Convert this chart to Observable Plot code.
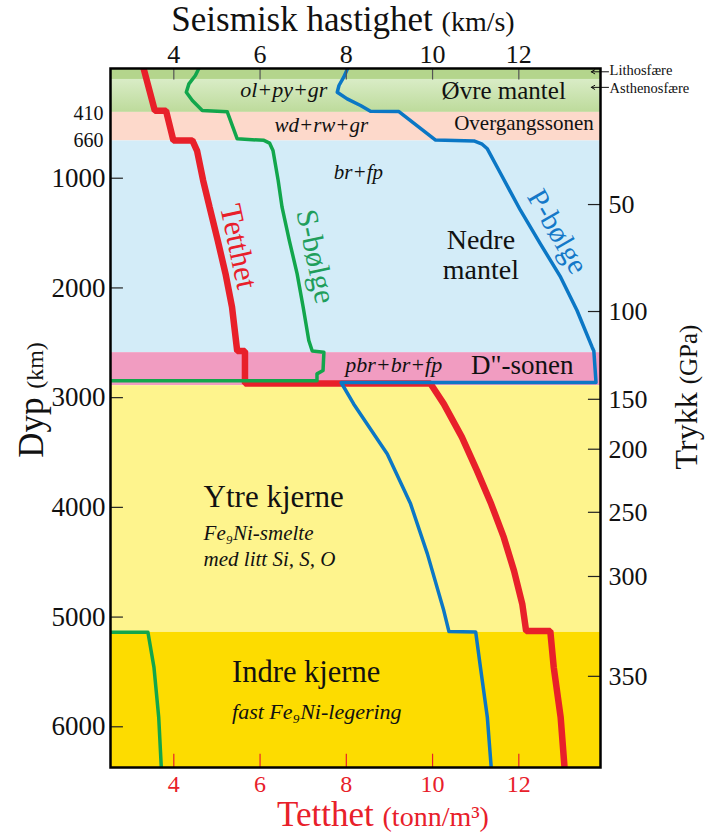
<!DOCTYPE html>
<html>
<head>
<meta charset="utf-8">
<script src="https://cdn.jsdelivr.net/npm/d3@7"></script>
<script src="https://cdn.jsdelivr.net/npm/@observablehq/plot@0.6"></script>
<style>
  html, body { margin: 0; padding: 0; background: #fff; }
  #chart svg { display: block; }
  #chart svg text { font-family: 'Liberation Serif', 'Times New Roman', serif; }
</style>
</head>
<body>
<div id="chart"></div>
<script>
// ---------- data ----------
const layerNames  = ["Lithosfære", "Øvre mantel", "Overgangssonen", "Nedre mantel", "D''-sonen", "Ytre kjerne", "Indre kjerne"];
const layerTop    = [0, 100, 400, 660, 2590, 2891, 5140];
const layerBottom = [100, 400, 660, 2590, 2891, 5140, 6371];

// Density (tonn/m3) vs depth (km)
const densityDepth = [0, 385, 385, 656, 656, 750, 1020, 1264, 1570, 1872, 2176, 2575, 2575, 2871, 2871, 3057, 3360, 3665, 3970, 4272, 4580, 4880, 5128, 5128, 5458, 5913, 6371];
const densityValue = [3.30, 3.56, 3.82, 3.99, 4.43, 4.54, 4.68, 4.83, 5.02, 5.20, 5.35, 5.47, 5.65, 5.65, 9.95, 10.26, 10.68, 11.03, 11.36, 11.65, 11.89, 12.08, 12.17, 12.73, 12.81, 12.97, 13.06];

// P-wave velocity (km/s) vs depth (km)
const pDepth = [0, 79, 155, 216, 277, 337, 389, 392, 652, 660, 690, 732, 930, 1294, 1598, 1902, 2206, 2540, 2575, 2862, 2862, 3057, 3513, 3968, 4424, 4941, 5132, 5136, 5458, 5913, 6371];
const pValue = [8.03, 7.94, 7.83, 7.79, 8.02, 8.33, 8.56, 9.22, 10.07, 10.96, 11.15, 11.27, 11.54, 12.04, 12.50, 12.97, 13.35, 13.70, 13.74, 13.79, 7.88, 8.17, 8.95, 9.49, 9.88, 10.26, 10.38, 11.00, 11.11, 11.27, 11.36];

// S-wave velocity (km/s) vs depth (km); 0 in the liquid outer core
const sDepth = [0, 64, 140, 216, 292, 383, 395, 641, 655, 680, 747, 1021, 1264, 1570, 1872, 2176, 2479, 2575, 2586, 2753, 2783, 2845, 2845, 5138, 5138, 5458, 5913, 6371];
const sValue = [4.58, 4.50, 4.35, 4.29, 4.43, 4.66, 5.24, 5.47, 6.09, 6.22, 6.30, 6.42, 6.51, 6.68, 6.86, 7.00, 7.13, 7.21, 7.48, 7.46, 7.32, 7.32, 0, 0, 3.40, 3.54, 3.65, 3.71];

const xTicks = [4, 6, 8, 10, 12];
const depthTicks = [1000, 2000, 3000, 4000, 5000, 6000];
const boundaryTicks = [410, 660];
const pressureDepth = [1240, 2215, 3015, 3470, 4045, 4630, 5540];
const pressureLabel = [50, 100, 150, 200, 250, 300, 350];

// ---------- styles ----------
const layerColor = {
  "Lithosfære": "#b4d58c",
  "Øvre mantel": "url(#umGrad)",
  "Overgangssonen": "#fdd9cb",
  "Nedre mantel": "#d3ecf8",
  "D''-sonen": "#f19cc1",
  "Ytre kjerne": "#fef48d",
  "Indre kjerne": "#fddc00"
};
const RED = "#e8202a", GREEN = "#12a64c", BLUE = "#0b77c5";
const SERIF = "'Liberation Serif', 'Times New Roman', serif";

const layers = layerNames.map((n, i) => ({name: n, top: layerTop[i], bottom: layerBottom[i]}));
const density = densityDepth.map((d, i) => ({d, v: densityValue[i]}));
const pwave = pDepth.map((d, i) => ({d, v: pValue[i]}));
const swave = sDepth.map((d, i) => ({d, v: sValue[i]}));
const pMap = new Map(pressureDepth.map((d, i) => [d, pressureLabel[i]]));

const X0 = 2.532, X1 = 13.894;

const txt = (s, o) => Plot.text([s], {text: d => d, fontFamily: SERIF, fill: "#111", ...o});
const ax = {tickSize: 0, label: null, fontFamily: SERIF};

const plot = Plot.plot({
  width: 706,
  height: 838,
  marginLeft: 110,
  marginRight: 106,
  marginTop: 68,
  marginBottom: 71,
  style: {fontFamily: SERIF, background: "#fff"},
  x: {domain: [X0, X1]},
  y: {domain: [0, 6371], reverse: true},
  marks: [
    // layers
    ...layers.map(l => Plot.rect([l], {y1: "top", y2: "bottom", fill: layerColor[l.name]})),
    // curves
    Plot.line(density, {x: "v", y: "d", stroke: RED, strokeWidth: 6.5, strokeLinejoin: "miter", clip: true}),
    Plot.line(pwave, {x: "v", y: "d", stroke: BLUE, strokeWidth: 3.5, strokeLinejoin: "round", clip: true}),
    Plot.line(swave, {x: "v", y: "d", stroke: GREEN, strokeWidth: 3.5, strokeLinejoin: "round", clip: true}),
    // inner ticks
    Plot.ruleX(xTicks, {x: d => d, y1: 0, y2: 105, stroke: "#555", strokeWidth: 1.2}),
    Plot.ruleX(xTicks, {x: d => d, y1: 6250, y2: 6371, stroke: RED, strokeWidth: 1.2}),
    Plot.ruleY(depthTicks, {y: d => d, x1: X0, x2: X0 + 0.3, stroke: "#222", strokeWidth: 1.2}),
    Plot.ruleY(pressureDepth, {y: d => d, x1: X1 - 0.28, x2: X1, stroke: "#222", strokeWidth: 1.2}),
    // axes
    Plot.axisX(xTicks, {...ax, anchor: "top", tickPadding: 6, fontSize: 26, fill: "#111"}),
    Plot.axisX(xTicks, {...ax, anchor: "bottom", tickPadding: 7, fontSize: 24, color: RED}),
    Plot.axisY(depthTicks, {...ax, anchor: "left", tickPadding: 5, fontSize: 27, tickFormat: d => String(d), fill: "#111"}),
    Plot.axisY(boundaryTicks, {...ax, anchor: "left", tickPadding: 7, fontSize: 20, tickFormat: d => String(d), fill: "#111"}),
    Plot.axisY(pressureDepth, {...ax, anchor: "right", tickPadding: 8, fontSize: 26, tickFormat: d => String(pMap.get(d)), fill: "#111"}),
    // region labels
    txt("ol+py+gr", {x: 6.55, y: 262, fontSize: 22, fontStyle: "italic", lineAnchor: "bottom"}),
    txt("Øvre mantel", {x: 11.65, y: 277, fontSize: 25, lineAnchor: "bottom"}),
    txt("wd+rw+gr", {x: 7.42, y: 580, fontSize: 21, fontStyle: "italic", lineAnchor: "bottom"}),
    txt("Overgangssonen", {x: 12.12, y: 565, fontSize: 21, lineAnchor: "bottom"}),
    txt("br+fp", {x: 8.28, y: 1005, fontSize: 21, fontStyle: "italic", lineAnchor: "bottom"}),
    txt("Nedre", {x: 11.12, y: 1645, fontSize: 28, lineAnchor: "bottom"}),
    txt("mantel", {x: 11.12, y: 1915, fontSize: 28, lineAnchor: "bottom"}),
    txt("pbr+br+fp", {x: 9.10, y: 2768, fontSize: 22, fontStyle: "italic", lineAnchor: "bottom"}),
    txt("D\"-sonen", {x: 12.08, y: 2783, fontSize: 27, lineAnchor: "bottom"}),
    txt("Ytre kjerne", {x: 4.69, y: 4000, fontSize: 31, textAnchor: "start", lineAnchor: "bottom"}),
    txt("Fe₉Ni-smelte", {x: 4.69, y: 4294, fontSize: 21, fontStyle: "italic", textAnchor: "start", lineAnchor: "bottom"}),
    txt("med litt Si, S, O", {x: 4.69, y: 4530, fontSize: 21, fontStyle: "italic", textAnchor: "start", lineAnchor: "bottom"}),
    txt("Indre kjerne", {x: 7.07, y: 5594, fontSize: 30.5, lineAnchor: "bottom"}),
    txt("fast Fe₉Ni-legering", {x: 5.35, y: 5928, fontSize: 22, fontStyle: "italic", textAnchor: "start", lineAnchor: "bottom"}),
    // curve labels
    txt("Tetthet", {x: 5.50, y: 1623, fontSize: 31, rotate: 78, fill: RED}),
    txt("S-bølge", {x: 7.29, y: 1713, fontSize: 30.5, rotate: 78, fill: "#1f9e5c"}),
    txt("P-bølge", {x: 12.90, y: 1486, fontSize: 29.5, rotate: 60, fill: "#1478c8"}),
    // lithosphere / asthenosphere markers
    Plot.arrow([0], {x1: 14.08, x2: 13.68, y1: 30, y2: 30, stroke: "#111", strokeWidth: 1, headLength: 6, clip: false}),
    Plot.arrow([0], {x1: 14.08, x2: 13.68, y1: 172, y2: 172, stroke: "#111", strokeWidth: 1, headLength: 6, clip: false}),
    txt("Lithosfære", {x: 14.08, y: 18, fontSize: 14.5, textAnchor: "start", dx: 1}),
    txt("Asthenosfære", {x: 14.08, y: 185, fontSize: 14.5, textAnchor: "start", dx: 1}),
    Plot.frame({stroke: "#000", strokeWidth: 2.5})
  ]
});

document.getElementById("chart").appendChild(plot);

// gradient for the upper mantle band and axis titles
const svg = d3.select(plot);
const grad = svg.insert("defs", ":first-child").append("linearGradient")
  .attr("id", "umGrad").attr("x1", 0).attr("y1", 0).attr("x2", 0).attr("y2", 1);
grad.append("stop").attr("offset", "0%").attr("stop-color", "#d9ecc6");
grad.append("stop").attr("offset", "100%").attr("stop-color", "#bddb9b");

function title(x, y, rotate, parts, color, anchor = "middle") {
  const t = svg.append("text")
    .attr("transform", `translate(${x},${y}) rotate(${rotate})`)
    .attr("text-anchor", anchor)
    .attr("font-family", SERIF)
    .attr("fill", color);
  parts.forEach(([s, size]) => t.append("tspan").attr("font-size", size).text(s));
}
title(343, 31, 0, [["Seismisk hastighet ", 35], ["(km/s)", 28]], "#111");
title(383, 826, 0, [["Tetthet ", 35], ["(tonn/m³)", 28]], RED);
title(43, 400, -90, [["Dyp ", 35], ["(km)", 24]], "#111");
title(697, 397, -90, [["Trykk ", 32], ["(GPa)", 25]], "#111");
</script>
</body>
</html>
